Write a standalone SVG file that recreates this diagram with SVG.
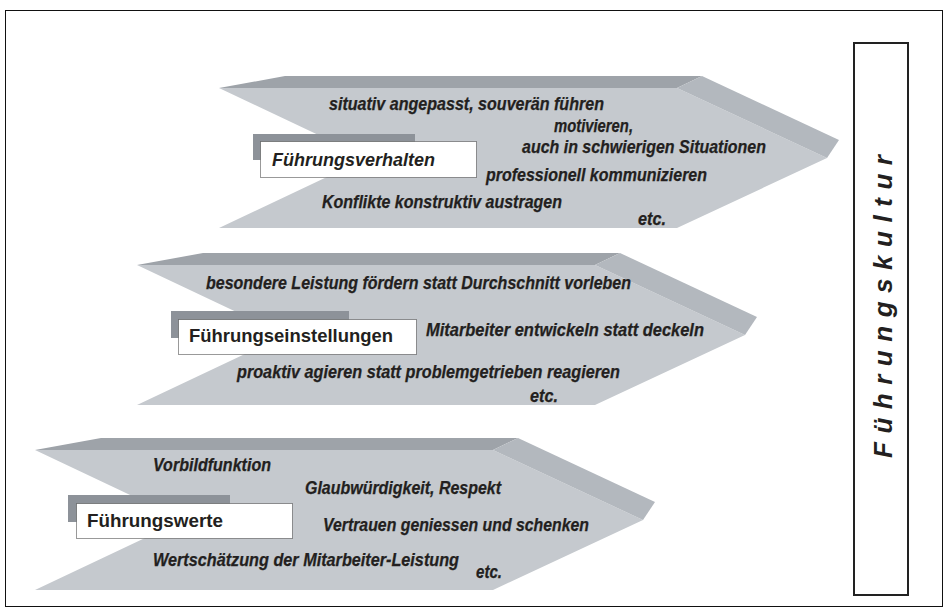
<svg xmlns="http://www.w3.org/2000/svg" xmlns:xlink="http://www.w3.org/1999/xlink" width="948" height="613" viewBox="0 0 948 613">
  <style>
    .band { fill: #9ea3a9; }
    .bevel { fill: #b3b8be; }
    .face { fill: #c5c9ce; }
    .tab { fill: #8d9299; }
    .box { fill: #ffffff; stroke: #333333; stroke-width: 1; stroke-dasharray: 1 1; }
    .t { font-family: "Liberation Sans", Arial, sans-serif; font-size: 17.5px; font-weight: bold; font-style: italic; fill: #231f20; stroke: #231f20; stroke-width: 0.25px; }
    .lbl { font-family: "Liberation Sans", Arial, sans-serif; font-size: 18px; font-weight: bold; fill: #231f20; }
    .side { font-family: "Liberation Sans", Arial, sans-serif; font-size: 26px; font-weight: bold; font-style: italic; fill: #231f20; }
  </style>
  <defs>
    <!-- bevelled chevron, origin at its upper-left corner -->
    <g id="chevron">
      <path class="face" d="M0,12 L458,12 L608,82 L458,152 L0,152 L148,82 Z"/>
      <path class="band" d="M0,12 L66,0 L483,0 L458,12 Z"/>
      <path class="bevel" d="M458,12 L483,0 L620,64 L608,82 Z"/>
    </g>
  </defs>

  <rect x="5.5" y="10.5" width="937" height="596" fill="#ffffff" stroke="#111111" stroke-width="1"/>

  <!-- leadership behaviour -->
  <g id="fuehrungsverhalten">
    <use xlink:href="#chevron" transform="translate(219,76)"/>
    <text class="t" x="329" y="110" textLength="275" lengthAdjust="spacingAndGlyphs">situativ angepasst, souverän führen</text>
    <text class="t" x="554" y="132" textLength="79" lengthAdjust="spacingAndGlyphs">motivieren,</text>
    <text class="t" x="522" y="153" textLength="244" lengthAdjust="spacingAndGlyphs">auch in schwierigen Situationen</text>
    <text class="t" x="486" y="181" textLength="221" lengthAdjust="spacingAndGlyphs">professionell kommunizieren</text>
    <text class="t" x="322" y="208" textLength="240" lengthAdjust="spacingAndGlyphs">Konflikte konstruktiv austragen</text>
    <text class="t" x="638" y="225" textLength="28" lengthAdjust="spacingAndGlyphs">etc.</text>
    <rect class="tab" x="253" y="134" width="162" height="26"/>
    <rect class="box" x="260.5" y="141.5" width="216" height="36"/>
    <text class="lbl" x="272" y="166" font-style="italic" textLength="163" lengthAdjust="spacingAndGlyphs">Führungsverhalten</text>
  </g>

  <!-- leadership attitudes -->
  <g id="fuehrungseinstellungen">
    <use xlink:href="#chevron" transform="translate(137,253)"/>
    <text class="t" x="206" y="289" textLength="425" lengthAdjust="spacingAndGlyphs">besondere Leistung fördern statt Durchschnitt vorleben</text>
    <text class="t" x="426" y="336" textLength="278" lengthAdjust="spacingAndGlyphs">Mitarbeiter entwickeln statt deckeln</text>
    <text class="t" x="237" y="378" textLength="383" lengthAdjust="spacingAndGlyphs">proaktiv agieren statt problemgetrieben reagieren</text>
    <text class="t" x="530" y="402" textLength="28" lengthAdjust="spacingAndGlyphs">etc.</text>
    <rect class="tab" x="171" y="311" width="178" height="27"/>
    <rect class="box" x="178.5" y="319.5" width="238" height="35"/>
    <text class="lbl" x="189" y="342" textLength="204" lengthAdjust="spacingAndGlyphs">Führungseinstellungen</text>
  </g>

  <!-- leadership values -->
  <g id="fuehrungswerte">
    <use xlink:href="#chevron" transform="translate(35,438)"/>
    <text class="t" x="153" y="471" textLength="118" lengthAdjust="spacingAndGlyphs">Vorbildfunktion</text>
    <text class="t" x="305" y="494" textLength="196" lengthAdjust="spacingAndGlyphs">Glaubwürdigkeit, Respekt</text>
    <text class="t" x="323" y="531" textLength="266" lengthAdjust="spacingAndGlyphs">Vertrauen geniessen und schenken</text>
    <text class="t" x="153" y="566" textLength="306" lengthAdjust="spacingAndGlyphs">Wertschätzung der Mitarbeiter-Leistung</text>
    <text class="t" x="476" y="578" textLength="26" lengthAdjust="spacingAndGlyphs">etc.</text>
    <rect class="tab" x="68" y="495" width="162" height="27"/>
    <rect class="box" x="76.5" y="503.5" width="216" height="35"/>
    <text class="lbl" x="87" y="527" textLength="136" lengthAdjust="spacingAndGlyphs">Führungswerte</text>
  </g>

  <!-- leadership culture -->
  <g id="fuehrungskultur">
    <rect x="854" y="43" width="54" height="552" fill="#ffffff" stroke="#222222" stroke-width="2"/>
    <text class="side" transform="translate(892,458) rotate(-90)" x="0" y="0" textLength="303" lengthAdjust="spacing">Führungskultur</text>
  </g>
</svg>
